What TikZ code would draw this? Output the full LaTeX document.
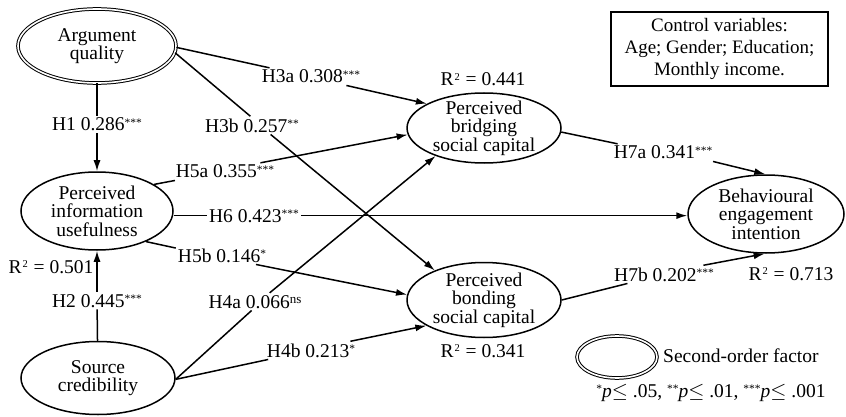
\documentclass[tikz,border=0pt]{standalone}
\usepackage{fontspec}
\setmainfont{Liberation Serif}
\usetikzlibrary{arrows.meta,calc,shapes.geometric}

% small raised significance stars and exponents
\newcommand\pstars[1]{\raisebox{4.5pt}{\fontsize{11.5}{11.5}\selectfont #1}}
\newcommand\pns{\raisebox{5pt}{\fontsize{13}{13}\selectfont ns}}
\newcommand\rsq{R\kern1pt\raisebox{5.5pt}{\fontsize{10.5}{10.5}\selectfont 2}\kern1pt\ = }

\begin{document}
\begin{tikzpicture}[x=1pt,y=-1pt,
  every node/.style={font=\fontsize{19.5}{18.5}\selectfont},
  construct/.style={ellipse, draw, line width=1.5pt, align=center, inner sep=-3pt},
  secondorder/.style={construct, double, double distance=1.6pt, line width=1pt},
  coef/.style={inner sep=2pt, anchor=base},
  link/.style={line width=1.5pt},
  linkarr/.style={link, -{Latex[length=11pt,width=7pt]}},
]
\useasboundingbox (0,0) rectangle (846,417);

% constructs
\node[secondorder, minimum width=158pt, minimum height=74pt] (aq) at (97,46) {Argument\\quality};
\node[construct, minimum width=152pt, minimum height=78pt] (piu) at (97,211) {Perceived\\information\\usefulness};
\node[construct, minimum width=154pt, minimum height=73pt] (sc) at (98,378) {Source\\credibility};
\node[construct, minimum width=154pt, minimum height=70pt] (pb) at (484,128) {Perceived\\bridging\\social capital};
\node[construct, minimum width=154pt, minimum height=75pt] (pbo) at (484,300) {Perceived\\bonding\\social capital};
\node[construct, minimum width=156pt, minimum height=78pt] (be) at (766,214) {Behavioural\\engagement\\intention};

% path coefficients
\node[coef] (h1) at (97,131) {H1 0.286\pstars{***}};
\node[coef] (h2) at (97,307) {H2 0.445\pstars{***}};
\node[coef] (h3a) at (311,83) {H3a 0.308\pstars{***}};
\node[coef] (h3b) at (252,132) {H3b 0.257\pstars{**}};
\node[coef] (h5a) at (225,178) {H5a 0.355\pstars{***}};
\node[coef] (h6) at (254,222) {H6 0.423\pstars{***}};
\node[coef] (h5b) at (222,262) {H5b 0.146\pstars{*}};
\node[coef] (h4a) at (255,308) {H4a 0.066\pns};
\node[coef] (h4b) at (311,357) {H4b 0.213\pstars{*}};
\node[coef] (h7a) at (663,159) {H7a 0.341\pstars{***}};
\node[coef] (h7b) at (664,281) {H7b 0.202\pstars{***}};

% explained variance
\node[coef] (r501) at (51,273) {\rsq 0.501};
\node[coef] (r441) at (483,86) {\rsq 0.441};
\node[coef] (r713) at (791,280) {\rsq 0.713};
\node[coef] (r341) at (483,357) {\rsq 0.341};

% paths
\draw[link] (aq) -- (h1);
\draw[linkarr] (h1) -- (piu);
\draw[link] (sc) -- (h2);
\draw[linkarr] (h2) -- (piu);
\draw[link] (aq.-1) -- (h3a.168);
\draw[linkarr] (h3a.-14) -- (pb.157);
\draw[link] (aq.-5) -- (h3b.100);
\draw[linkarr] (h3b.-26) -- (pbo.149);
\draw[link] (piu.25) -- (h5a.190);
\draw[linkarr] (h5a.14) -- (pb.185);
\draw[link] (h6.west -| piu.east) -- (h6.west);
\draw[linkarr] (h6.east) -- (h6.east -| be.west);
\draw[link] (piu.-32) -- (h5b.171);
\draw[linkarr] (h5b.-15) -- (pbo.176);
\draw[link] (sc.-1) -- (h4a.-111);
\draw[linkarr] (h4a.31) -- (pb.210);
\draw[link] (sc.-1) -- (h4b.192);
\draw[linkarr] (h4b.13) -- (pbo.204);
\draw[link] (pb.-3) -- (h7a.169);
\draw[linkarr] (h7a.-10) -- (be.91);
\draw[link] (pbo.east) -- (h7b.194);
\draw[linkarr] (h7b.13) -- (be.268);

% control variables
\node[draw, line width=1.3pt, minimum width=217pt, minimum height=74pt, align=center,
      font=\fontsize{19}{22}\selectfont] (ctrl) at (719.5,49)
  {Control variables:\\Age; Gender; Education;\\Monthly income.};

% legend
\node[secondorder, minimum width=80pt, minimum height=42pt] (lg) at (617,357) {};
\node[coef, anchor=base west] (lgt) at (661,362) {Second-order factor};
\node[coef] (sig) at (711,397)
  {\pstars{*}\textit{p}$\leq$ .05, \pstars{**}\textit{p}$\leq$ .01, \pstars{***}\textit{p}$\leq$ .001};
\end{tikzpicture}
\end{document}
